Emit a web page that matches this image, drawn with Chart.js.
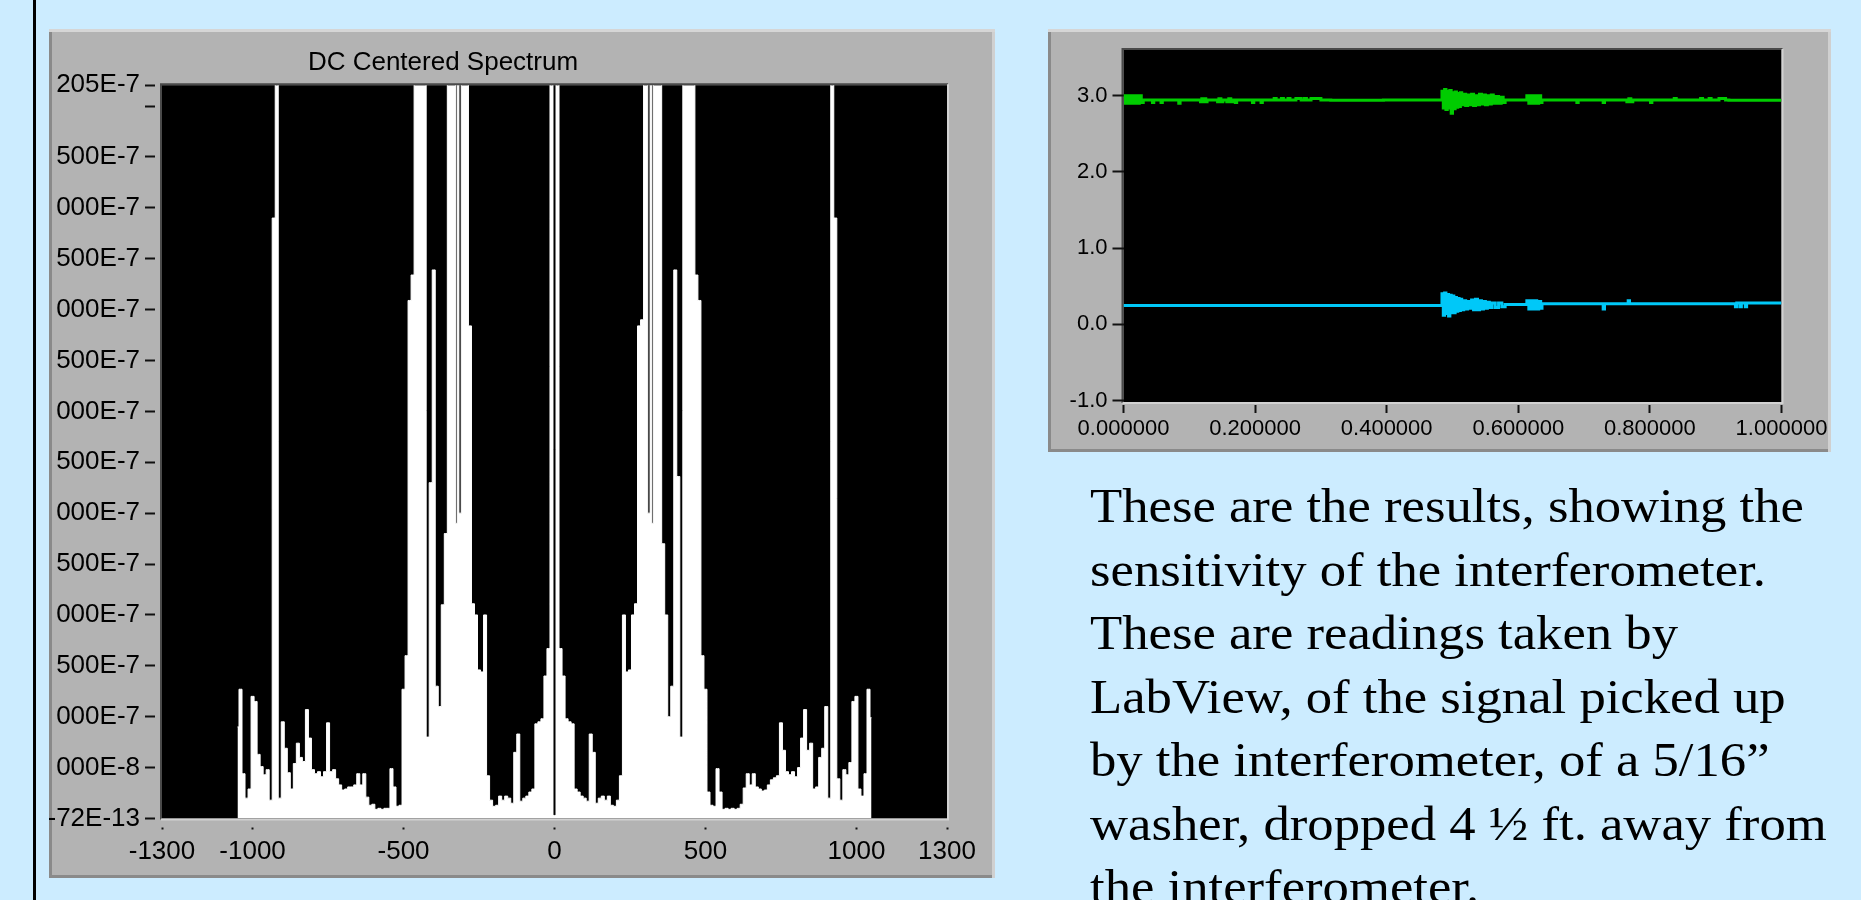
<!DOCTYPE html>
<html lang="en">
<head>
<meta charset="utf-8">
<title>Interferometer results</title>
<script src="https://cdn.jsdelivr.net/npm/chart.js@4.4.1/dist/chart.umd.min.js"></script>
<style>
  html, body { margin: 0; padding: 0; }
  body { width: 1861px; height: 900px; background: #ccecff; position: relative; overflow: hidden; }
  #rule { position: absolute; left: 33px; top: 0; width: 3px; height: 900px; background: #000; }
  .panel { position: absolute; background: #b3b3b3; overflow: hidden;
           box-shadow: inset 0 3px 0 #d6d6d6, inset -3px 0 0 #d0d0d0, inset 3px 0 0 #8a8a8a, inset 0 -3px 0 #8a8a8a; }
  #specPanel { left: 49px; top: 29px; width: 946px; height: 849px; }
  #specPanel canvas { position: absolute; left: -110px; top: 0; }
  #wavePanel { left: 1048px; top: 29px; width: 783px; height: 423px; }
  #wavePanel canvas { position: absolute; left: 0; top: 0; }
  #note { position: absolute; left: 1090px; top: 474px; font-family: 'Liberation Serif', 'Times New Roman', serif;
          font-size: 48px; line-height: 63.5px; color: #000; white-space: nowrap;
          transform: scaleX(1.0976); transform-origin: 0 0; }
</style>
</head>
<body>
<div id="rule"></div>
<div class="panel" id="specPanel"><canvas id="spectrum" width="1056" height="849"></canvas></div>
<div class="panel" id="wavePanel"><canvas id="waves" width="783" height="423"></canvas></div>
<div id="note">These are the results, showing the<br>sensitivity of the interferometer.<br>These are readings taken by<br>LabView, of the signal picked up<br>by the interferometer, of a 5/16”<br>washer, dropped 4 ½ ft. away from<br>the interferometer.</div>
<script>
// --- DC centered spectrum (amplitude in units of 1E-7, 9 = off the top of the plot)
const specFreq = [
  -1050, -1040, -1030, -1020, -1010, -1000, -990, -980, -970, -960,
  -950, -940, -930, -920, -910, -900, -890, -880, -870, -860,
  -850, -840, -830, -820, -810, -800, -790, -780, -770, -760,
  -750, -740, -730, -720, -710, -700, -690, -680, -670, -660,
  -650, -640, -630, -620, -610, -600, -590, -580, -570, -560,
  -550, -540, -530, -520, -510, -500, -490, -480, -470, -460,
  -450, -440, -430, -420, -410, -400, -390, -380, -370, -360,
  -350, -340, -330, -325, -320, -313, -305, -300, -290, -280,
  -270, -260, -250, -240, -230, -220, -210, -200, -190, -180,
  -170, -160, -150, -140, -130, -120, -110, -100, -90, -80,
  -70, -60, -50, -40, -30, -20, -10, 0, 10, 20,
  30, 40, 50, 60, 70, 80, 90, 100, 110, 120,
  130, 140, 150, 160, 170, 180, 190, 200, 210, 220,
  230, 240, 250, 260, 270, 280, 290, 300, 305, 313,
  320, 325, 330, 340, 350, 360, 370, 380, 390, 400,
  410, 420, 430, 440, 450, 460, 470, 480, 490, 500,
  510, 520, 530, 540, 550, 560, 570, 580, 590, 600,
  610, 620, 630, 640, 650, 660, 670, 680, 690, 700,
  710, 720, 730, 740, 750, 760, 770, 780, 790, 800,
  810, 820, 830, 840, 850, 860, 870, 880, 890, 900,
  910, 920, 930, 940, 950, 960, 970, 980, 990, 1000,
  1010, 1020, 1030, 1040, 1050
];
const specAmp = [
  0.9, 1.27, 0.44, 0.2, 0.29, 1.2, 1.15, 0.63, 0.51, 0.43,
  0.48, 0.18, 5.9, 9, 0.2, 0.95, 0.69, 0.45, 0.29, 0.54,
  0.74, 0.6, 0.56, 1.07, 0.79, 0.48, 0.44, 0.46, 0.41, 0.46,
  0.94, 0.46, 0.48, 0.39, 0.33, 0.28, 0.29, 0.31, 0.31, 0.33,
  0.44, 0.33, 0.44, 0.21, 0.13, 0.14, 0.09, 0.1, 0.09, 0.1,
  0.1, 0.49, 0.31, 0.12, 0.13, 1.27, 1.6, 5.09, 5.34, 9,
  9, 9, 9, 0.8, 3.3, 5.39, 1.3, 1.1, 2.1, 2.8,
  9, 9, 9, 2.9, 9, 3.0, 9, 9, 9, 4.84,
  2.11, 2.0, 1.46, 1.44, 2.0, 0.42, 0.18, 0.12, 0.13, 0.22,
  0.18, 0.22, 0.2, 0.15, 0.65, 0.83, 0.17, 0.2, 0.22, 0.26,
  0.29, 0.93, 0.95, 0.98, 1.4, 1.67, 9, 0.03, 9, 1.67,
  1.4, 0.98, 0.95, 0.93, 0.29, 0.26, 0.22, 0.2, 0.17, 0.83,
  0.65, 0.15, 0.2, 0.22, 0.18, 0.22, 0.13, 0.12, 0.18, 0.42,
  2.0, 1.44, 1.46, 2.0, 2.11, 4.84, 4.9, 9, 9, 3.0,
  9, 2.9, 9, 9, 9, 2.7, 2.0, 1.0, 1.3, 5.39,
  3.36, 0.8, 9, 9, 9, 9, 5.34, 5.09, 1.6, 1.27,
  0.26, 0.13, 0.12, 0.49, 0.26, 0.09, 0.1, 0.09, 0.1, 0.09,
  0.1, 0.14, 0.3, 0.44, 0.33, 0.44, 0.31, 0.29, 0.27, 0.28,
  0.33, 0.38, 0.4, 0.42, 0.94, 0.67, 0.46, 0.43, 0.46, 0.41,
  0.5, 0.79, 1.07, 0.67, 0.74, 0.29, 0.31, 0.6, 0.69, 1.1,
  0.2, 9, 5.9, 0.39, 0.18, 0.48, 0.43, 0.55, 1.15, 1.2,
  0.29, 0.22, 0.44, 1.27, 0.99
];
const specXTicks = [-1300, -1000, -500, 0, 500, 1000, 1300];
const specXLabels = ['-1300', '-1000', '-500', '0', '500', '1000', '1300'];
const specYTicks = [0, 0.5, 1, 1.5, 2, 2.5, 3, 3.5, 4, 4.5, 5, 5.5, 6, 6.5, 7, 7.205];
const specYLabels = ['-72E-13', '000E-8', '000E-7', '500E-7', '000E-7', '500E-7', '000E-7', '500E-7',
                     '000E-7', '500E-7', '000E-7', '500E-7', '000E-7', '500E-7', '', '205E-7'];

// --- interferometer signals (time in s, volts); each value holds until the next time
const greenTime = [
  0.000, 0.003, 0.006, 0.009, 0.012, 0.015, 0.018, 0.021, 0.024, 0.027,
  0.030, 0.044, 0.046, 0.057, 0.059, 0.084, 0.086,
  0.117, 0.119, 0.121, 0.123, 0.125, 0.127,
  0.143, 0.145, 0.148, 0.151, 0.157, 0.160, 0.163, 0.166, 0.170, 0.172,
  0.196, 0.198, 0.209, 0.211,
  0.229, 0.232, 0.240, 0.243, 0.250, 0.253, 0.262, 0.270, 0.275, 0.278, 0.285, 0.300,
  0.315, 0.395,
  0.484, 0.486, 0.488, 0.490, 0.492, 0.494, 0.496, 0.498, 0.500, 0.502, 0.504, 0.506, 0.508, 0.510, 0.512,
  0.514, 0.517, 0.520, 0.523, 0.526, 0.529, 0.532, 0.535, 0.538, 0.541, 0.544, 0.547, 0.550, 0.553,
  0.556, 0.559, 0.562, 0.566, 0.570, 0.574, 0.577,
  0.580,
  0.613, 0.616, 0.619, 0.622, 0.625, 0.628, 0.631, 0.634,
  0.636, 0.689, 0.691, 0.729, 0.731,
  0.765, 0.768, 0.771, 0.774, 0.801, 0.803, 0.837, 0.840,
  0.877, 0.880, 0.890, 0.893, 0.905, 0.915, 0.920, 1.000
];
const greenVolt = [
  3.00, 2.90, 3.00, 2.90, 3.00, 2.90, 3.00, 2.90, 3.00, 2.91,
  2.945, 2.91, 2.945, 2.91, 2.945, 2.90, 2.945,
  2.92, 2.96, 2.92, 2.96, 2.92, 2.945,
  2.92, 2.96, 2.92, 2.945, 2.92, 2.96, 2.92, 2.945, 2.91, 2.945,
  2.91, 2.945, 2.91, 2.945,
  2.965, 2.945, 2.965, 2.945, 2.965, 2.945, 2.965, 2.945, 2.965, 2.945, 2.965, 2.945,
  2.94, 2.945,
  3.06, 2.84, 3.08, 2.82, 3.06, 2.84, 3.07, 2.77, 3.04, 2.83, 3.05, 2.85, 3.03, 2.86, 3.04,
  2.88, 3.02, 2.87, 3.01, 2.88, 3.02, 2.87, 3.00, 2.88, 3.02, 2.89, 3.01, 2.88, 3.00,
  2.89, 3.01, 2.90, 2.99, 2.90, 2.98, 2.91,
  2.945,
  3.00, 2.90, 3.00, 2.90, 3.00, 2.90, 3.00, 2.91,
  2.945, 2.91, 2.945, 2.91, 2.945,
  2.92, 2.96, 2.92, 2.945, 2.91, 2.945, 2.965, 2.945,
  2.965, 2.945, 2.965, 2.945, 2.965, 2.945, 2.94, 2.94
];
const cyanTime = [
  0.000,
  0.484, 0.486, 0.488, 0.490, 0.492, 0.494, 0.496, 0.498, 0.500, 0.502, 0.504, 0.506, 0.508, 0.510, 0.512,
  0.514, 0.517, 0.520, 0.523, 0.526, 0.529, 0.532, 0.535, 0.538, 0.541, 0.544, 0.547, 0.550, 0.553,
  0.556, 0.560, 0.565, 0.570, 0.575,
  0.580,
  0.613, 0.616, 0.619, 0.622, 0.625, 0.628, 0.631, 0.634,
  0.636, 0.729, 0.731, 0.767, 0.769,
  0.930, 0.932, 0.937, 0.939, 0.945, 0.947, 1.000
];
const cyanVolt = [
  0.245,
  0.40, 0.12, 0.41, 0.14, 0.39, 0.11, 0.38, 0.15, 0.37, 0.15, 0.35, 0.17, 0.34, 0.18, 0.33,
  0.19, 0.31, 0.20, 0.30, 0.21, 0.32, 0.19, 0.33, 0.19, 0.31, 0.20, 0.30, 0.21, 0.29,
  0.22, 0.28, 0.22, 0.28, 0.23,
  0.26,
  0.31, 0.20, 0.31, 0.20, 0.31, 0.20, 0.30, 0.21,
  0.27, 0.20, 0.27, 0.31, 0.27,
  0.23, 0.28, 0.23, 0.28, 0.23, 0.28, 0.28
];
const waveXTicks = [0, 0.2, 0.4, 0.6, 0.8, 1.0];
const waveXLabels = ['0.000000', '0.200000', '0.400000', '0.600000', '0.800000', '1.000000'];
const waveYTicks = [-1, 0, 1, 2, 3];
const waveYLabels = ['-1.0', '0.0', '1.0', '2.0', '3.0'];

const labFont = "'Liberation Sans', Arial, sans-serif";

// black plot area with a sunken grey frame, like the LabVIEW graphs
const plotFrame = {
  id: 'plotFrame',
  beforeDraw(chart) {
    const ctx = chart.ctx;
    const a = chart.chartArea;
    ctx.save();
    ctx.fillStyle = '#000';
    ctx.fillRect(a.left, a.top, a.right - a.left, a.bottom - a.top);
    ctx.lineWidth = 2;
    ctx.strokeStyle = '#4a4a4a';
    ctx.beginPath();
    ctx.moveTo(a.left - 1, a.bottom + 1);
    ctx.lineTo(a.left - 1, a.top - 1);
    ctx.lineTo(a.right + 1, a.top - 1);
    ctx.stroke();
    ctx.strokeStyle = '#d2d2d2';
    ctx.beginPath();
    ctx.moveTo(a.right + 1, a.top - 1);
    ctx.lineTo(a.right + 1, a.bottom + 1);
    ctx.lineTo(a.left - 1, a.bottom + 1);
    ctx.stroke();
    ctx.restore();
  }
};

function toPoints(xs, ys) {
  return xs.map((x, i) => ({ x: x, y: ys[i] }));
}

new Chart(document.getElementById('spectrum'), {
  type: 'line',
  data: {
    datasets: [{
      data: toPoints(specFreq, specAmp),
      borderColor: '#ffffff',
      backgroundColor: '#ffffff',
      borderWidth: 1,
      fill: 'origin',
      stepped: 'middle',
      pointRadius: 0
    }]
  },
  options: {
    responsive: false,
    animation: false,
    devicePixelRatio: 1,
    layout: { padding: { left: 0, right: 48, top: 0, bottom: 0 } },
    plugins: {
      legend: { display: false },
      tooltip: { enabled: false },
      title: {
        display: true,
        text: 'DC Centered Spectrum',
        color: '#000',
        font: { family: labFont, size: 26, weight: 'normal' },
        padding: { top: 18, bottom: 7 }
      }
    },
    scales: {
      x: {
        type: 'linear', min: -1300, max: 1300,
        afterBuildTicks: s => { s.ticks = specXTicks.map(v => ({ value: v })); },
        afterFit: s => { s.height = 59.5; },
        border: { display: false },
        grid: { drawOnChartArea: false, tickLength: 11, tickWidth: 2, tickColor: '#111',
                tickBorderDash: [2, 100], tickBorderDashOffset: 93.5 },
        ticks: { autoSkip: false, maxRotation: 0, padding: 7, color: '#000',
                 font: { family: labFont, size: 26 },
                 callback: (v, i) => specXLabels[i] }
      },
      y: {
        min: 0, max: 7.205,
        afterBuildTicks: s => { s.ticks = specYTicks.map(v => ({ value: v })); },
        afterFit: s => { s.width = 223; },
        border: { display: false },
        grid: { drawOnChartArea: false, tickLength: 17, tickWidth: 2, tickColor: '#111',
                tickBorderDash: [10, 100] },
        ticks: { autoSkip: false, padding: 5, color: '#000',
                 font: { family: labFont, size: 26 },
                 callback: (v, i) => specYLabels[i] }
      }
    }
  },
  plugins: [plotFrame]
});

new Chart(document.getElementById('waves'), {
  type: 'line',
  data: {
    datasets: [
      { data: toPoints(greenTime, greenVolt), borderColor: '#00cc00', borderWidth: 3,
        stepped: 'before', pointRadius: 0, fill: false },
      { data: toPoints(cyanTime, cyanVolt), borderColor: '#00c8f8', borderWidth: 3,
        stepped: 'before', pointRadius: 0, fill: false }
    ]
  },
  options: {
    responsive: false,
    animation: false,
    devicePixelRatio: 1,
    layout: { padding: { left: 0, right: 49.5, top: 21, bottom: 0 } },
    plugins: { legend: { display: false }, tooltip: { enabled: false } },
    scales: {
      x: {
        type: 'linear', min: 0, max: 1,
        afterBuildTicks: s => { s.ticks = waveXTicks.map(v => ({ value: v })); },
        afterFit: s => { s.height = 50; },
        border: { display: false },
        grid: { drawOnChartArea: false, tickLength: 11, tickWidth: 2, tickColor: '#111',
                tickBorderDash: [8, 100], tickBorderDashOffset: 105 },
        ticks: { autoSkip: false, maxRotation: 0, padding: 3, color: '#000',
                 font: { family: labFont, size: 22 },
                 callback: (v, i) => waveXLabels[i] }
      },
      y: {
        min: -1.02, max: 3.6,
        afterBuildTicks: s => { s.ticks = waveYTicks.map(v => ({ value: v })); },
        afterFit: s => { s.width = 75.5; },
        border: { display: false },
        grid: { drawOnChartArea: false, tickLength: 11, tickWidth: 2, tickColor: '#111' },
        ticks: { autoSkip: false, padding: 5, color: '#000',
                 font: { family: labFont, size: 22 },
                 callback: (v, i) => waveYLabels[i] }
      }
    }
  },
  plugins: [plotFrame]
});
</script>
</body>
</html>
